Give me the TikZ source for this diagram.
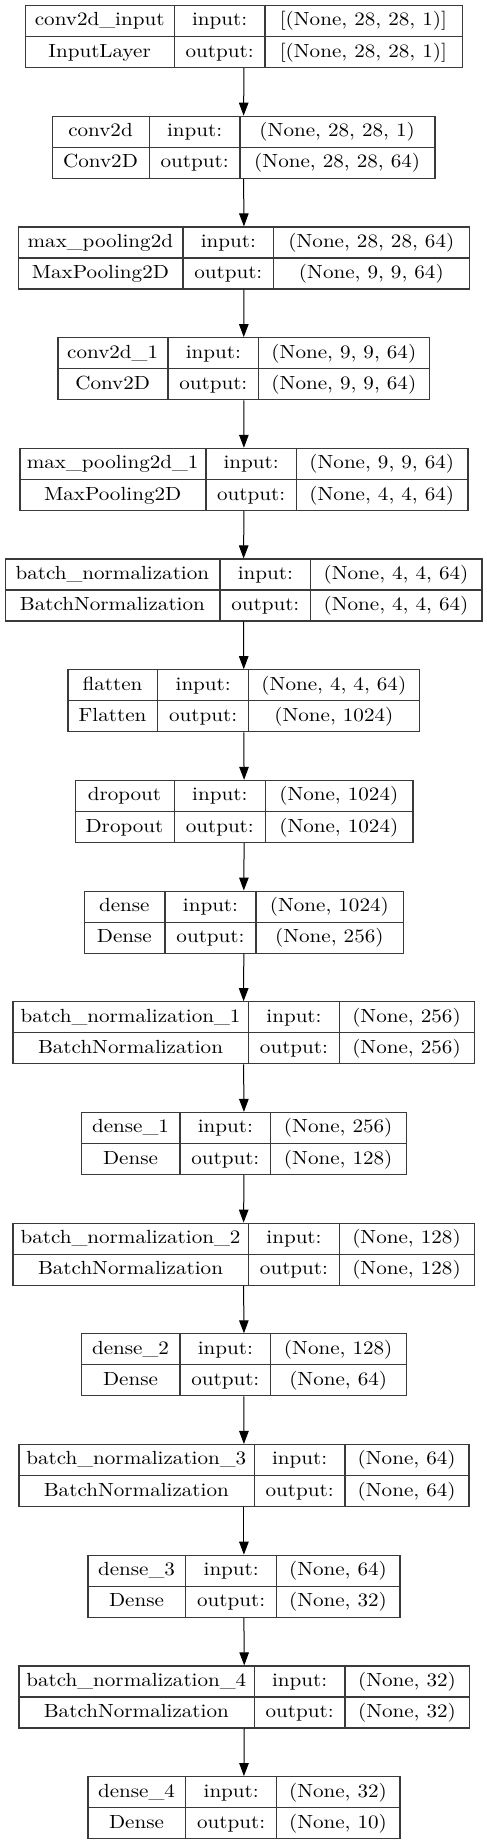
\documentclass[tikz,border=0pt]{standalone}
\usepackage{graphicx}
\usetikzlibrary{arrows.meta}
\definecolor{boxline}{HTML}{3A3A3A}
\tikzset{
  layerbox/.style={draw=boxline, line width=1.2pt, rectangle, inner sep=0pt, anchor=north west, minimum height=62pt},
  divline/.style={draw=boxline, line width=1.2pt},
  lbl/.style={anchor=base, inner sep=0pt, font=\fontsize{10}{12}\selectfont},
  arr/.style={draw=black, line width=1pt, -{Triangle[length=13pt, width=9.5pt]}}
}
\newcommand\sx[1]{\scalebox{2.11}[1.9]{#1}}
% #1 index, #2 x0, #3 d1, #4 d2, #5 x3, #6 name, #7 class, #8 in, #9 out
\newcommand\layer[9]{%
  \pgfmathsetmacro\ttop{5+110.69*(#1-1)}%
  \pgfmathsetmacro\bw{#5-#2}%
  \node[layerbox, minimum width=\bw pt] (L#1) at (#2,\ttop) {};
  \draw[divline] (L#1.west) -- (L#1.east);
  \draw[divline] (#3,\ttop) -- (#3,\ttop+62);
  \draw[divline] (#4,\ttop) -- (#4,\ttop+62);
  \node[lbl] (L#1n) at ({(#2+#3)/2},\ttop+21) {\sx{#6}};
  \node[lbl] (L#1c) at ({(#2+#3)/2},\ttop+52.3) {\sx{#7}};
  \node[lbl] (L#1i) at ({(#3+#4)/2},\ttop+21) {\sx{input:}};
  \node[lbl] (L#1o) at ({(#3+#4)/2},\ttop+52.3) {\sx{output:}};
  \node[lbl] (L#1a) at ({(#4+#5)/2},\ttop+21) {\sx{#8}};
  \node[lbl] (L#1b) at ({(#4+#5)/2},\ttop+52.3) {\sx{#9}};
}
\begin{document}
\begin{tikzpicture}[x=1pt, y=-1pt]
\useasboundingbox[fill=white] (0,0) rectangle (487,1844);
\layer{1}{25}{174.3}{265}{461.7}{conv2d\_input}{InputLayer}{[(None, 28, 28, 1)]}{[(None, 28, 28, 1)]}
\layer{2}{51.7}{149.3}{240}{434.3}{conv2d}{Conv2D}{(None, 28, 28, 1)}{(None, 28, 28, 64)}
\layer{3}{17.7}{183}{273.7}{469}{max\_pooling2d}{MaxPooling2D}{(None, 28, 28, 64)}{(None, 9, 9, 64)}
\layer{4}{57.3}{168}{258.7}{429}{conv2d\_1}{Conv2D}{(None, 9, 9, 64)}{(None, 9, 9, 64)}
\layer{5}{19.3}{206}{296.3}{467.3}{max\_pooling2d\_1}{MaxPooling2D}{(None, 9, 9, 64)}{(None, 4, 4, 64)}
\layer{6}{4.7}{220}{310.7}{481.3}{batch\_normalization}{BatchNormalization}{(None, 4, 4, 64)}{(None, 4, 4, 64)}
\layer{7}{67.3}{157.7}{248.7}{419}{flatten}{Flatten}{(None, 4, 4, 64)}{(None, 1024)}
\layer{8}{74.7}{174.3}{265.3}{412.3}{dropout}{Dropout}{(None, 1024)}{(None, 1024)}
\layer{9}{83.7}{165}{256}{402.7}{dense}{Dense}{(None, 1024)}{(None, 256)}
\layer{10}{12.3}{248.7}{339.3}{473.7}{batch\_normalization\_1}{BatchNormalization}{(None, 256)}{(None, 256)}
\layer{11}{81}{180}{270.7}{405.7}{dense\_1}{Dense}{(None, 256)}{(None, 128)}
\layer{12}{12.3}{248.7}{339.3}{473.7}{batch\_normalization\_2}{BatchNormalization}{(None, 128)}{(None, 128)}
\layer{13}{81}{180}{270.7}{405.7}{dense\_2}{Dense}{(None, 128)}{(None, 64)}
\layer{14}{18.3}{254.3}{345}{468.3}{batch\_normalization\_3}{BatchNormalization}{(None, 64)}{(None, 64)}
\layer{15}{87.3}{185.7}{276.7}{399.3}{dense\_3}{Dense}{(None, 64)}{(None, 32)}
\layer{16}{18.3}{254.3}{345}{469}{batch\_normalization\_4}{BatchNormalization}{(None, 32)}{(None, 32)}
\layer{17}{87.3}{185.7}{276.7}{399.3}{dense\_4}{Dense}{(None, 32)}{(None, 10)}
\foreach \i [evaluate=\i as \j using int(\i+1)] in {1,...,16} {
  \draw[arr] (L\i.south) -- (L\j.north);
}
\end{tikzpicture}
\end{document}
